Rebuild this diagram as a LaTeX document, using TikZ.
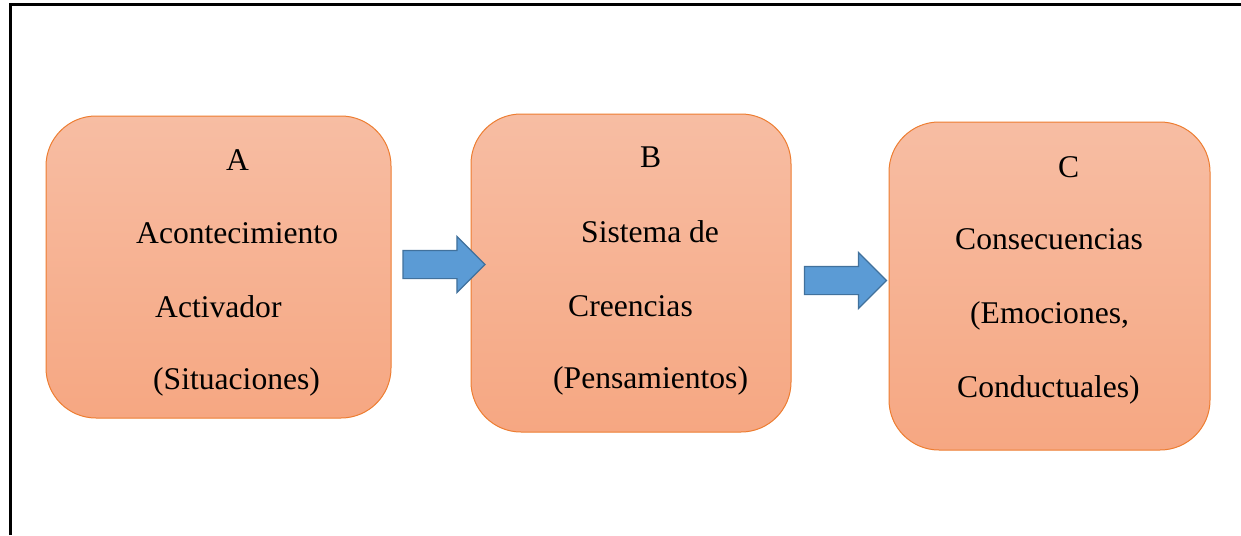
\documentclass[tikz,border=0pt]{standalone}
\usepackage{fontspec}
\setmainfont{Liberation Serif}
\usetikzlibrary{shapes.arrows}

\definecolor{borde}{HTML}{ED7D31}
\definecolor{relleno1}{HTML}{F7BDA3}
\definecolor{relleno2}{HTML}{F6A782}
\definecolor{azul}{HTML}{5B9BD5}
\definecolor{azulborde}{HTML}{41719C}

\tikzset{
	caja/.style={draw=borde, line width=1pt, rounded corners=50pt, top color=relleno1, bottom color=relleno2, inner sep=0pt},
	flecha/.style={single arrow, draw=azulborde, fill=azul, line width=1.2pt, inner xsep=0pt, inner ysep=13.5pt, single arrow head extend=14pt},
	texto/.style={anchor=base west, inner sep=0pt}
}

\begin{document}
\begin{tikzpicture}[x=1pt, y=-1pt, font=\fontsize{31.6}{38}\selectfont]
				\useasboundingbox (0,0) rectangle (1241,535);
				% marco
				\draw[line width=3pt] (10,535) -- (10,5) -- (1241,5);
				
				% cajas
				\node[caja, minimum width=345pt, minimum height=302pt] (A) at (218.5,267) {};
				\node[caja, minimum width=320pt, minimum height=318pt] (B) at (631,273) {};
				\node[caja, minimum width=321pt, minimum height=328pt] (C) at (1049.5,286) {};
				
				% textos
				\node[texto] (A1) at (226,170) {A};
				\node[texto] (A2) at (136,243) {Acontecimiento};
				\node[texto] (A3) at (155,317) {Activador};
				\node[texto] (A4) at (153,389) {(Situaciones)};
				
				\node[texto] (B1) at (640,167) {B};
				\node[texto] (B2) at (581,242) {Sistema de};
				\node[texto] (B3) at (568,316) {Creencias};
				\node[texto] (B4) at (553,388) {(Pensamientos)};
				
				\node[texto] (C1) at (1058,177) {C};
				\node[texto] (C2) at (955,249) {Consecuencias};
				\node[texto] (C3) at (970,323) {(Emociones,};
				\node[texto] (C4) at (957,397) {Conductuales)};
				
				% flechas
				\node[flecha, minimum height=82pt] (f1) at (437,264.5) {};
				\node[flecha, minimum height=82pt] (f2) at (838.5,280.5) {};
			\end{tikzpicture}
\end{document}
